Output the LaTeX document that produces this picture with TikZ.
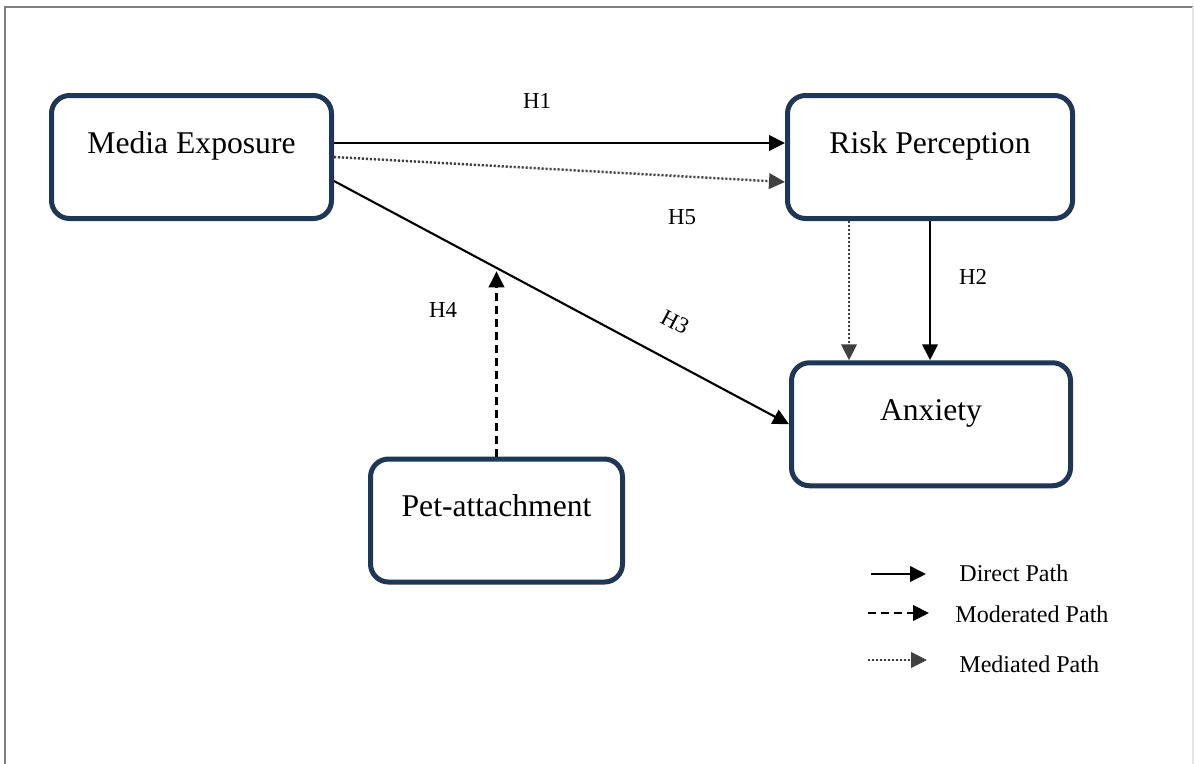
\documentclass[tikz,border=0pt]{standalone}
\usepackage{fontspec}
\setmainfont{Liberation Serif}
\usetikzlibrary{arrows.meta,positioning,calc}
\definecolor{boxblue}{HTML}{1F3754}
\definecolor{medgray}{HTML}{404040}

\begin{document}
\begin{tikzpicture}[font=\fontsize{18}{21}\selectfont,>={Triangle[length=3.2mm,width=3.1mm]},
 construct/.style={draw=boxblue,line width=1mm,rounded corners=3.6mm,inner sep=0pt,text height=1.15cm,text depth=1.31cm},
 hyp/.style={font=\fontsize{13}{15}\selectfont,inner sep=1pt},
 legtext/.style={font=\fontsize{13.7}{16}\selectfont,anchor=west,inner sep=0pt},
 direct/.style={->,line width=1.2pt},
 moder/.style={->,line width=1.4pt,dash pattern=on 1.6mm off 1mm},
 medi/.style={->,draw=medgray,fill=medgray,line width=1.4pt,dash pattern=on .4mm off .4mm}]
\useasboundingbox (0,0) rectangle (23.88,-15.26);
\draw[gray,line width=.04cm] (0.1,-15.6)--(0.1,-0.134)--(23.866,-0.134);
\draw[black!10,line width=.04cm] (23.866,-0.134)--(23.866,-15.6);
\node[construct,minimum width=5.6cm] (me) at (3.83,-3.14) {Media Exposure};
\node[construct,minimum width=5.7cm] (rp) at (18.6,-3.14) {Risk Perception};
\node[construct,minimum width=5.58cm] (anx) at (18.62,-8.485) {Anxiety};
\node[construct,minimum width=5.04cm] (pet) at (9.93,-10.41) {Pet-attachment};
\draw[direct] ([yshift=.28cm]me.east)--([yshift=.28cm]rp.west);
\draw[medi] (me.east)--([yshift=-.5cm]rp.west);
\draw[direct] ([yshift=-.48cm]me.east)-- coordinate[pos=.357] (mod) (anx.west);
\draw[moder,shorten >=2pt] (pet.north)--(pet.north |- mod);
\draw[direct] (rp.south)--(rp.south |- anx.north);
\draw[medi] ([xshift=-1.62cm]rp.south)--([xshift=-1.62cm]rp.south |- anx.north);
\node[hyp] (h1) at (10.74,-2.02) {H1};
\node[hyp] (h2) at (19.46,-5.54) {H2};
\node[hyp,rotate=-28] (h3) at (13.5,-6.44) {H3};
\node[hyp] (h4) at (8.86,-6.2) {H4};
\node[hyp] (h5) at (13.64,-4.34) {H5};
% legend
\foreach \s/\xa/\xb/\y/\xt/\yt/\t in {direct/17.42/18.52/-11.48/19.18/-11.46/Direct Path,moder/17.36/18.58/-12.26/19.1/-12.29/Moderated Path,medi/17.36/18.54/-13.2/19.18/-13.28/Mediated Path}{
 \coordinate (\s a) at (\xa,\y);
 \coordinate (\s b) at (\xb,\y);
 \draw[\s] (\s a)--(\s b);
 \node[legtext] (\s t) at (\xt,\yt) {\t};}
\end{tikzpicture}
\end{document}
